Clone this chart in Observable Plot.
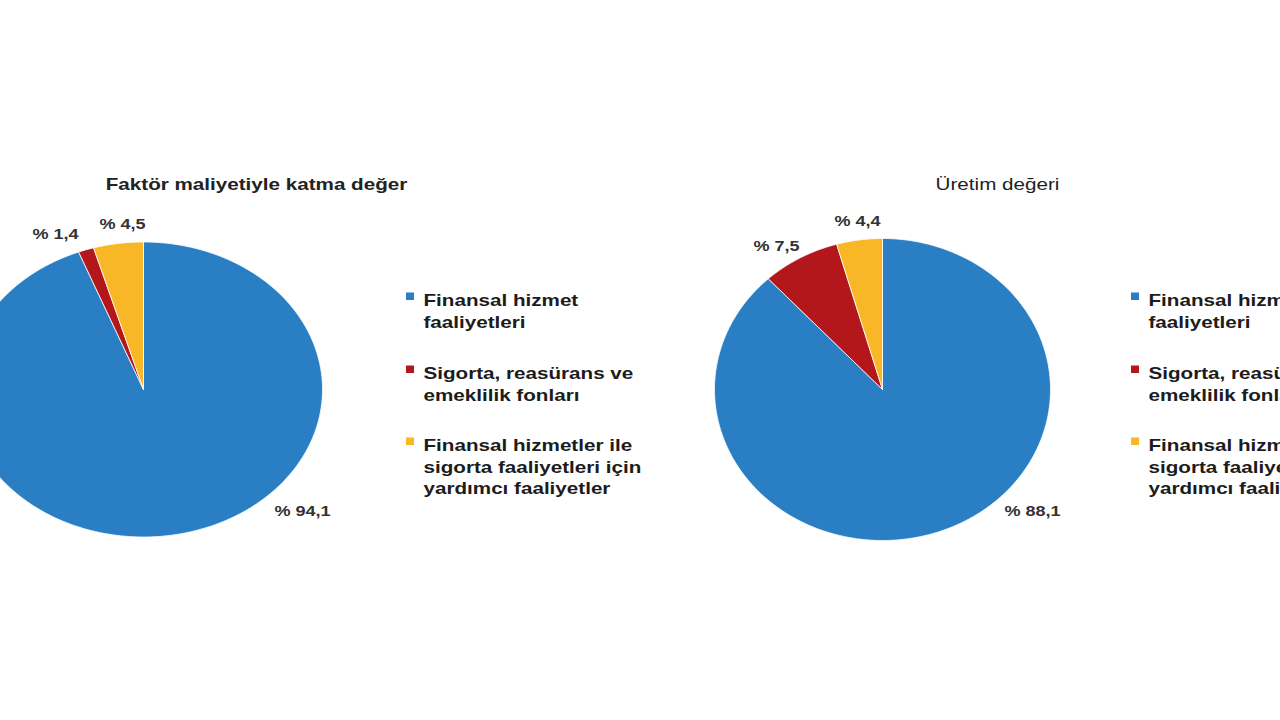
<!DOCTYPE html>
<html>
<head>
<meta charset="utf-8">
<script src="https://cdn.jsdelivr.net/npm/d3@7"></script>
<script src="https://cdn.jsdelivr.net/npm/@observablehq/plot@0.6"></script>
<style>
  html, body { margin: 0; padding: 0; background: #fff; overflow: hidden; }
</style>
</head>
<body>
<div id="chart"></div>
<script>
// ---- Data ----
const categories = [
  "Finansal hizmet\nfaaliyetleri",
  "Sigorta, reasürans ve\nemeklilik fonları",
  "Finansal hizmetler ile\nsigorta faaliyetleri için\nyardımcı faaliyetler"
];
const valueAddedShares = [94.1, 1.4, 4.5];     // Faktör maliyetiyle katma değer (%)
const productionShares = [88.1, 7.5, 4.4];     // Üretim değeri (%)
const chartTitles = ["Faktör maliyetiyle katma değer", "Üretim değeri"];

// ---- Styles / layout ----
const palette = ["#2a7fc4", "#b3161b", "#f8b726"];
const FONT = "Liberation Sans, Arial, sans-serif";
const STRETCH = 1.29;

const pies = [
  {values: valueAddedShares, title: chartTitles[0], cx: 143, cy: 389, rx: 179, ry: 147.5,
   titleX: 256, titleY: 189, titleBold: true,
   labelOffsets: [[159, 126], [-88, -151], [-21, -161]], legendX: 406},
  {values: productionShares, title: chartTitles[1], cx: 882, cy: 389, rx: 168, ry: 151,
   titleX: 997, titleY: 189, titleBold: false,
   labelOffsets: [[150, 126], [-106, -139], [-25, -164]], legendX: 1131}
];
const legendTops = [290, 363, 435];

// ---- Build geometry from data ----
const slicePoints = [];
const pctLabels = [];
const legendRects = [];
const legendTexts = [];
pies.forEach((p, pi) => {
  const total = d3.sum(p.values);
  let cum = 0;
  p.values.forEach((v, si) => {
    const a0 = cum / total * 2 * Math.PI;
    const a1 = (cum + v) / total * 2 * Math.PI;
    cum += v;
    const key = pi + "-" + si;
    const color = palette[si];
    slicePoints.push({key, color, x: p.cx, y: p.cy});
    const n = Math.max(2, Math.ceil((a1 - a0) / (Math.PI / 360)));
    for (let k = 0; k <= n; k++) {
      const a = a0 + (a1 - a0) * k / n;
      slicePoints.push({key, color, x: p.cx + p.rx * Math.sin(a), y: p.cy - p.ry * Math.cos(a)});
    }
    slicePoints.push({key, color, x: p.cx, y: p.cy});
    const [dx, dy] = p.labelOffsets[si];
    pctLabels.push({x: p.cx + dx, y: p.cy + dy, text: "% " + v.toFixed(1).replace(".", ",")});
    legendRects.push({x1: p.legendX, x2: p.legendX + 8, y1: legendTops[si] + 2.5, y2: legendTops[si] + 10, color});
    legendTexts.push({x: p.legendX + 17, y: legendTops[si], text: categories[si]});
  });
});

const svg = Plot.plot({
  width: 1280,
  height: 720,
  margin: 0,
  style: {background: "#fff", fontFamily: FONT},
  x: {domain: [0, 1280], range: [0, 1280], axis: null},
  y: {domain: [0, 720], range: [0, 720], axis: null},
  color: {type: "identity"},
  marks: [
    Plot.line(slicePoints, {x: "x", y: "y", z: "key", fill: "color", stroke: "#ffffff", strokeWidth: 0.8, strokeLinejoin: "round"}),
    Plot.text(pies.filter(p => p.titleBold), {x: "titleX", y: "titleY", text: "title", fontSize: 16, fontWeight: "bold", fill: "#222", fontFamily: FONT, textAnchor: "middle", lineAnchor: "bottom"}),
    Plot.text(pies.filter(p => !p.titleBold), {x: "titleX", y: "titleY", text: "title", fontSize: 16, fontWeight: "normal", fill: "#222", fontFamily: FONT, textAnchor: "middle", lineAnchor: "bottom"}),
    Plot.text(pctLabels, {x: "x", y: "y", text: "text", fontSize: 14, fontWeight: "bold", fill: "#333", fontFamily: FONT, textAnchor: "middle", lineAnchor: "bottom"}),
    Plot.rect(legendRects, {x1: "x1", x2: "x2", y1: "y1", y2: "y2", fill: "color"}),
    Plot.text(legendTexts, {x: "x", y: "y", text: "text", fontSize: 16, fontWeight: "bold", fill: "#1c1c1c", fontFamily: FONT, textAnchor: "start", lineAnchor: "top", lineHeight: 1.36})
  ]
});

// horizontal stretch of the text glyphs, as in the reference
d3.select(svg).selectAll('g[aria-label="text"] text').each(function () {
  const t = this.getAttribute("transform") || "";
  this.setAttribute("transform", t + ` scale(${STRETCH},1)`);
});

document.getElementById("chart").appendChild(svg);
</script>
</body>
</html>
